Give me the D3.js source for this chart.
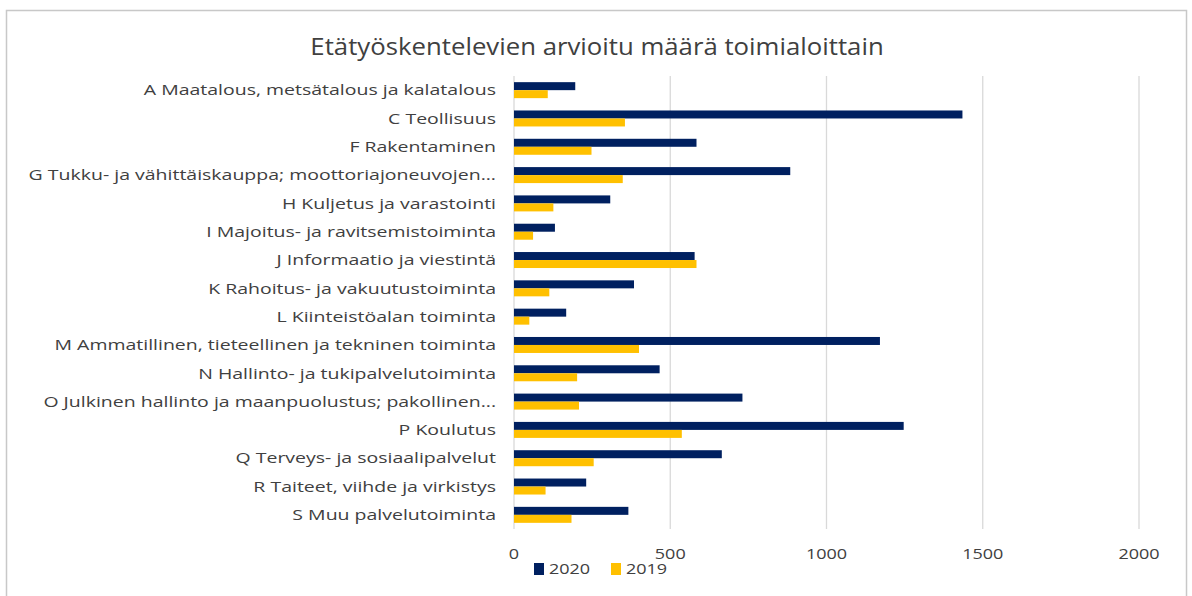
<!DOCTYPE html>
<html>
<head>
<meta charset="utf-8">
<script src="https://cdn.jsdelivr.net/npm/d3@7"></script>
<style>
  body { margin: 0; background: #fff; }
  text { font-family: "Open Sans", "Noto Sans", sans-serif; fill: #404040; }
</style>
</head>
<body>
<div id="vis"></div>
<script>
const categories = [
  "A Maatalous, metsätalous ja kalatalous",
  "C Teollisuus",
  "F Rakentaminen",
  "G Tukku- ja vähittäiskauppa; moottoriajoneuvojen...",
  "H Kuljetus ja varastointi",
  "I Majoitus- ja ravitsemistoiminta",
  "J Informaatio ja viestintä",
  "K Rahoitus- ja vakuutustoiminta",
  "L Kiinteistöalan toiminta",
  "M Ammatillinen, tieteellinen ja tekninen toiminta",
  "N Hallinto- ja tukipalvelutoiminta",
  "O Julkinen hallinto ja maanpuolustus; pakollinen...",
  "P Koulutus",
  "Q Terveys- ja sosiaalipalvelut",
  "R Taiteet, viihde ja virkistys",
  "S Muu palvelutoiminta",
];
const values2020 = [196, 1435, 584, 884, 308, 131, 578, 384, 167, 1171, 466, 731, 1247, 665, 231, 366];
const values2019 = [108, 355, 248, 348, 126, 61, 584, 113, 49, 400, 202, 208, 537, 255, 101, 184];
const seriesNames = ["2020", "2019"];
const seriesColors = ["#002060", "#ffc000"];
const xTicks = [0, 500, 1000, 1500, 2000];

const W = 1192, H = 596;
const plot = { left: 514, right: 1139, top: 76, bottom: 529 };

const svg = d3.select("#vis").append("svg").attr("width", W).attr("height", H);

// chart frame
svg.append("rect")
  .attr("x", 6.5).attr("y", 10.5)
  .attr("width", 1180).attr("height", 600)
  .attr("fill", "#fff").attr("stroke", "#c8c8c8").attr("stroke-width", 1.5);

// text in the source is drawn a bit wider than the font, so stretch it horizontally
svg.append("text")
  .attr("transform", "translate(597,55) scale(1.12,1)")
  .attr("text-anchor", "middle")
  .style("font-size", "23px")
  .text("Etätyöskentelevien arvioitu määrä toimialoittain");

const x = d3.scaleLinear().domain([0, 2000]).range([plot.left, plot.right]);
const y = d3.scaleBand().domain(categories).range([plot.top, plot.bottom]);
const ySub = d3.scaleBand().domain(seriesNames).range([0, y.bandwidth()]).paddingOuter(0.77);

// gridlines
svg.append("g")
  .selectAll("line")
  .data(xTicks)
  .join("line")
  .attr("x1", (d) => x(d)).attr("x2", (d) => x(d))
  .attr("y1", plot.top).attr("y2", plot.bottom)
  .attr("stroke", "#d9d9d9").attr("stroke-width", 1.3);

// x tick labels
svg.append("g")
  .selectAll("text")
  .data(xTicks)
  .join("text")
  .attr("transform", (d) => `translate(${x(d)},${559}) scale(1.2,1)`)
  .attr("text-anchor", "middle")
  .style("font-size", "15px")
  .text((d) => d);

// category labels
svg.append("g")
  .selectAll("text")
  .data(categories)
  .join("text")
  .attr("transform", (d) => `translate(496,${y(d) + y.bandwidth() / 2}) scale(1.3,1)`)
  .attr("dy", "0.35em")
  .attr("text-anchor", "end")
  .style("font-size", "15px")
  .text((d) => d);

// bars
const rows = categories.map((c, i) => ({ cat: c, vals: [values2020[i], values2019[i]] }));
const groups = svg.append("g")
  .selectAll("g")
  .data(rows)
  .join("g")
  .attr("transform", (d) => `translate(0,${y(d.cat)})`);

groups.selectAll("rect")
  .data((d) => d.vals.map((v, j) => ({ series: seriesNames[j], value: v, color: seriesColors[j] })))
  .join("rect")
  .attr("x", x(0))
  .attr("y", (d) => ySub(d.series))
  .attr("width", (d) => x(d.value) - x(0))
  .attr("height", ySub.bandwidth())
  .attr("fill", (d) => d.color);

// legend
const legend = svg.append("g").attr("transform", "translate(534,563)");
const legendItems = legend.selectAll("g")
  .data(seriesNames)
  .join("g")
  .attr("transform", (d, i) => `translate(${i * 77},0)`);
legendItems.append("rect")
  .attr("x", 0).attr("y", 0)
  .attr("width", 10).attr("height", 12)
  .attr("fill", (d, i) => seriesColors[i]);
legendItems.append("text")
  .attr("transform", "translate(15,6) scale(1.2,1)")
  .attr("dy", "0.35em")
  .style("font-size", "15px")
  .text((d) => d);
</script>
</body>
</html>
